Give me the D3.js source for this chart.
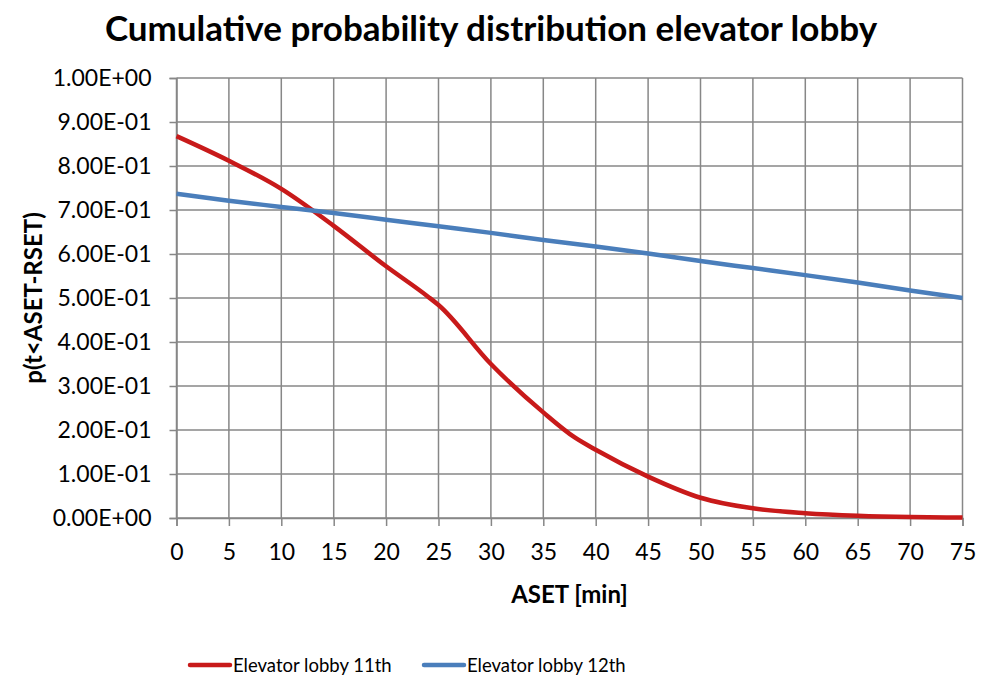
<!DOCTYPE html>
<html>
<head>
<meta charset="utf-8">
<script src="https://cdn.jsdelivr.net/npm/d3@7"></script>
<style>
  body { margin: 0; background: #fff; }
  text { font-family: Lato, "Open Sans", sans-serif; fill: #000; }
  .title { font-size: 35px; font-weight: bold; }
  .label { font-size: 24px; font-weight: bold; }
  .legend { font-size: 18.5px; }
</style>
</head>
<body>
<script>
//Data
const asetRed = [0, 5, 10, 15, 20, 24, 25, 30, 35, 38, 40, 45, 50, 55, 60, 65, 70, 75];
const lobby11 = [0.868, 0.812, 0.748, 0.664, 0.572, 0.503, 0.484, 0.350, 0.240, 0.183, 0.155, 0.094, 0.046, 0.022, 0.011, 0.005, 0.002, 0.001];
const asetBlue = [0, 5, 10, 15, 20, 25, 30, 35, 40, 45, 50, 55, 60, 65, 70, 75];
const lobby12 = [0.737, 0.721, 0.707, 0.693, 0.678, 0.663, 0.648, 0.632, 0.617, 0.601, 0.584, 0.568, 0.552, 0.535, 0.517, 0.500];
const xTicks = d3.range(0, 80, 5);
const yTicks = d3.range(0, 1.01, 0.1);

const width = 982;
const height = 680;
const plotLeft = 176.5, plotRight = 962.5, plotTop = 78, plotBottom = 518;

const svg = d3.select("body").append("svg")
    .attr("width", width)
    .attr("height", height);

//Scales
const xScale = d3.scaleLinear().domain([0, 75]).range([plotLeft, plotRight]);
const yScale = d3.scaleLinear().domain([0, 1]).range([plotBottom, plotTop]);

//Gridlines
svg.append("g")
    .selectAll("line")
    .data(xTicks)
    .join("line")
    .attr("x1", d => xScale(d)).attr("x2", d => xScale(d))
    .attr("y1", plotTop).attr("y2", plotBottom)
    .attr("stroke", "#878787").attr("stroke-width", 1.5);

svg.append("g")
    .selectAll("line")
    .data(yTicks)
    .join("line")
    .attr("x1", plotLeft).attr("x2", plotRight)
    .attr("y1", d => yScale(d)).attr("y2", d => yScale(d))
    .attr("stroke", "#878787").attr("stroke-width", 1.5);

//Axes
const bottomAxis = d3.axisBottom(xScale)
    .tickValues(xTicks)
    .tickSize(8)
    .tickPadding(18)
    .tickFormat(d3.format("d"));

const leftAxis = d3.axisLeft(yScale)
    .tickValues(yTicks)
    .tickSize(7)
    .tickPadding(18)
    .tickFormat(d => d.toExponential(2).toUpperCase().replace("E-", "E-0").replace("E+", "E+0"));

const gx = svg.append("g")
    .attr("transform", "translate(0," + plotBottom + ")")
    .call(bottomAxis);

const gy = svg.append("g")
    .attr("transform", "translate(" + plotLeft + ",0)")
    .call(leftAxis);

[gx, gy].forEach(g => {
    g.select(".domain").attr("stroke", "#878787").attr("stroke-width", 1.5);
    g.selectAll(".tick line").attr("stroke", "#878787").attr("stroke-width", 1.5);
    g.selectAll(".tick text")
        .style("font-family", "Lato, sans-serif")
        .style("font-size", "23px")
        .attr("fill", "#000");
});

//Lines
const line = d3.line()
    .x(d => xScale(d[0]))
    .y(d => yScale(d[1]))
    .curve(d3.curveMonotoneX);

svg.append("path")
    .datum(asetRed.map((x, i) => [x, lobby11[i]]))
    .attr("d", line)
    .attr("fill", "none")
    .attr("stroke", "#C81A1A")
    .attr("stroke-width", 4.5);

svg.append("path")
    .datum(asetBlue.map((x, i) => [x, lobby12[i]]))
    .attr("d", line)
    .attr("fill", "none")
    .attr("stroke", "#4A7EBB")
    .attr("stroke-width", 4.5);

//Title and axis labels
svg.append("text")
    .attr("class", "title")
    .attr("x", 491)
    .attr("y", 41)
    .attr("text-anchor", "middle")
    .text("Cumulative probability distribution elevator lobby");

svg.append("text")
    .attr("class", "label")
    .attr("x", (plotLeft + plotRight) / 2)
    .attr("y", 603)
    .attr("text-anchor", "middle")
    .text("ASET [min]");

svg.append("text")
    .attr("class", "label")
    .attr("transform", "translate(42," + ((plotTop + plotBottom) / 2) + ") rotate(-90)")
    .attr("text-anchor", "middle")
    .text("p(t<ASET-RSET)");

//Legend
const legendItems = [
    {name: "Elevator lobby 11th", color: "#C81A1A", x: 190},
    {name: "Elevator lobby 12th", color: "#4A7EBB", x: 424}
];

legendItems.forEach(item => {
    svg.append("line")
        .attr("x1", item.x).attr("x2", item.x + 40)
        .attr("y1", 665).attr("y2", 665)
        .attr("stroke", item.color)
        .attr("stroke-width", 4.5)
        .attr("stroke-linecap", "round");
    svg.append("text")
        .attr("class", "legend")
        .attr("x", item.x + 43)
        .attr("y", 672)
        .text(item.name);
});
</script>
</body>
</html>
